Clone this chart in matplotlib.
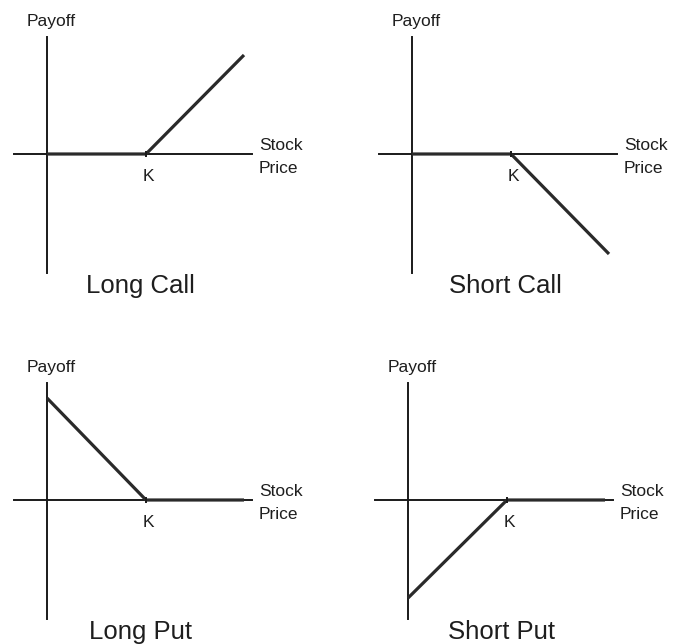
import matplotlib
matplotlib.use("Agg")
import matplotlib.pyplot as plt

plt.rcParams['font.family'] = ['Liberation Sans', 'DejaVu Sans']

# strike K = 1 unit, payoff at a few stock prices
stock = [0.0, 1.0, 1.99]
long_call = [0.0, 0.0, 1.0]
short_call = [0.0, 0.0, -1.01]
long_put = [1.03, 0.0, 0.0]
short_put = [-0.99, 0.0, 0.0]

titles = ["Long Call", "Short Call", "Long Put", "Short Put"]
payoffs = [long_call, short_call, long_put, short_put]

W, H = 673, 644
unit = 99  # pixels per unit
# origin of each panel (axis crossing), in image pixels from the top-left
origins = [(47, 154), (412, 154), (47, 500), (408, 500)]

fig = plt.figure(figsize=(W / 100, H / 100), dpi=100)

x0, x1 = -0.45, 2.55
y0, y1 = -1.4, 1.4
for (ox, oy), title, pay in zip(origins, titles, payoffs):
    left = (ox + x0 * unit) / W
    bottom = 1 - (oy - y0 * unit) / H
    ax = fig.add_axes([left, bottom, (x1 - x0) * unit / W, (y1 - y0) * unit / H])
    ax.set_xlim(x0, x1)
    ax.set_ylim(y0, y1)
    ax.axis('off')

    # axes
    ax.plot([-0.33, 2.07], [0, 0], color='#1a1a1a', lw=1.4, clip_on=False)
    ax.plot([0, 0], [-1.2, 1.18], color='#1a1a1a', lw=1.4, clip_on=False)
    # payoff
    ax.plot(stock, pay, color='#2a2a2a', lw=2.3, solid_capstyle='butt', clip_on=False)
    ax.plot([1.0], [0.0], marker='|', ms=5, mew=1.4, color='#1a1a1a')

    ax.text(0.04, 1.29, "Payoff", fontsize=12.5, ha='center', va='baseline', color='#1e1e1e')
    ax.text(2.14, 0.04, "Stock", fontsize=12.5, ha='left', va='baseline', color='#1e1e1e')
    ax.text(2.14, -0.19, "Price", fontsize=12.5, ha='left', va='baseline', color='#1e1e1e')
    ax.text(1.02, -0.27, "K", fontsize=12.5, ha='center', va='baseline', color='#1e1e1e')
    ax.text(0.94, -1.40, title, fontsize=18.5, ha='center', va='baseline', color='#1e1e1e')

fig.savefig("out.png", dpi=100)
